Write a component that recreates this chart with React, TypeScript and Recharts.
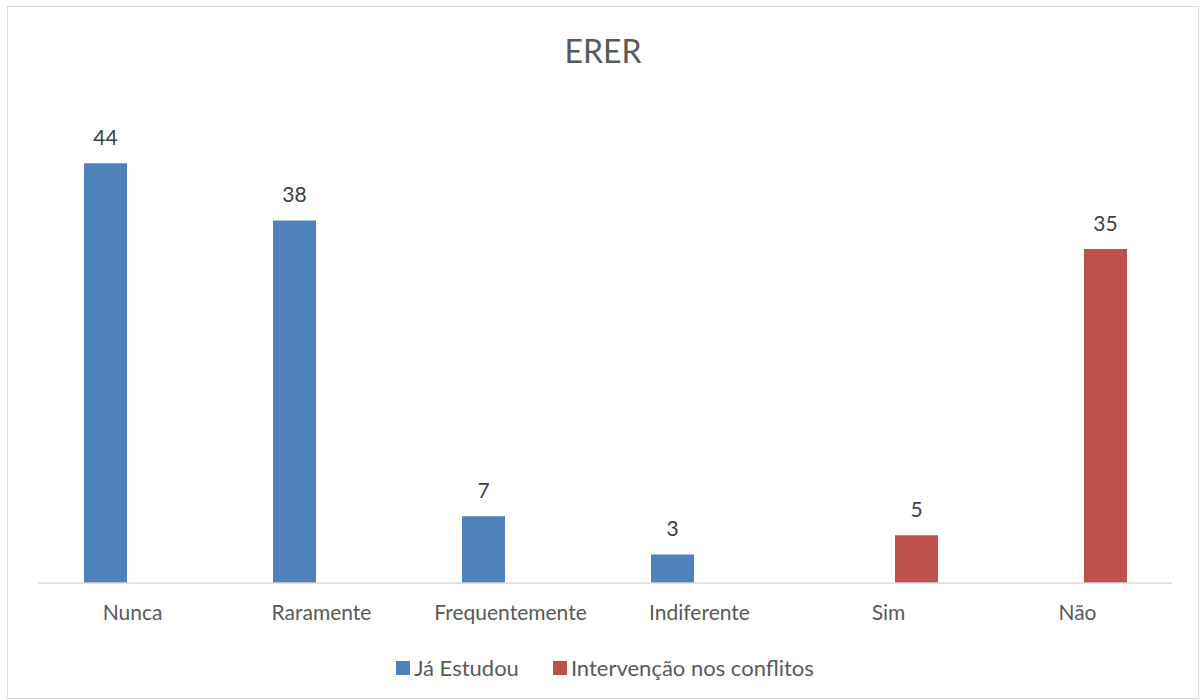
import React from 'react';
import { BarChart, Bar, XAxis, YAxis, Legend, LabelList } from 'recharts';

const categories = ['Nunca', 'Raramente', 'Frequentemente', 'Indiferente', 'Sim', 'Não'];
const jaEstudou = [44, 38, 7, 3, null, null];
const intervencao = [null, null, null, null, 5, 35];
const seriesNames = ['Já Estudou', 'Intervenção nos conflitos'];
const seriesColors = ['#4F81BD', '#C0504D'];

const data = categories.map((name, i) => ({
  name,
  estudou: jaEstudou[i],
  intervencao: intervencao[i],
}));

const font = 'Lato, "Open Sans", sans-serif';
const textColor = '#595959';

const fmt = (v: any) => (v === null || v === undefined ? '' : v);

const renderLegend = () => (
  <div style={{ display: 'flex', justifyContent: 'center', gap: 34, fontSize: 22, fontFamily: font, color: textColor }}>
    {seriesNames.map((n, i) => (
      <div key={n} style={{ display: 'flex', alignItems: 'center' }}>
        <span style={{ width: 14, height: 14, background: seriesColors[i], marginRight: 4, display: 'inline-block' }} />
        <span>{n}</span>
      </div>
    ))}
  </div>
);

export default function App() {
  return (
    <div
      style={{
        position: 'absolute',
        left: 7,
        top: 6,
        width: 1190,
        height: 691,
        border: '1px solid #d9d9d9',
        background: '#fff',
        fontFamily: font,
      }}
    >
      <div
        style={{
          position: 'absolute',
          top: 24,
          width: '100%',
          textAlign: 'center',
          fontSize: 32,
          color: textColor,
        }}
      >
        ERER
      </div>
      <BarChart
        width={1190}
        height={691}
        data={data}
        margin={{ top: 99, right: 26, left: 30, bottom: 17 }}
        barSize={43}
        barGap={12}
      >
        <XAxis
          dataKey="name"
          height={71}
          axisLine={{ stroke: '#d9d9d9', strokeWidth: 1.5 }}
          tickLine={false}
          tick={{ fill: textColor, fontSize: 21, fontFamily: font }}
          dy={14}
        />
        <YAxis hide domain={[0, 50]} />
        <Legend verticalAlign="bottom" align="center" content={renderLegend} />
        <Bar dataKey="estudou" name={seriesNames[0]} fill={seriesColors[0]} isAnimationActive={false}>
          <LabelList
            dataKey="estudou"
            position="top"
            offset={18}
            formatter={fmt}
            style={{ fill: '#404040', fontSize: 21, fontFamily: font }}
          />
        </Bar>
        <Bar dataKey="intervencao" name={seriesNames[1]} fill={seriesColors[1]} isAnimationActive={false}>
          <LabelList
            dataKey="intervencao"
            position="top"
            offset={18}
            formatter={fmt}
            style={{ fill: '#404040', fontSize: 21, fontFamily: font }}
          />
        </Bar>
      </BarChart>
    </div>
  );
}
